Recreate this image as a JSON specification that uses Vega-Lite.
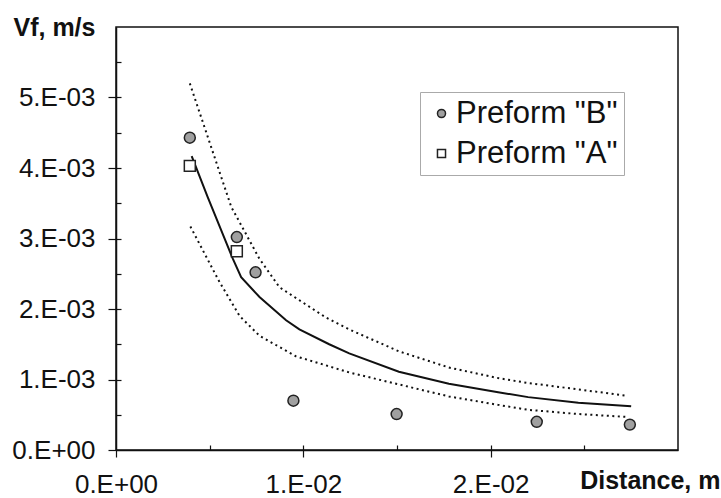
{
  "$schema": "https://vega.github.io/schema/vega-lite/v6.json",
  "autosize": "none",
  "width": 562,
  "height": 423,
  "padding": {"left": 116, "top": 27, "right": 43, "bottom": 48},
  "background": "white",
  "config": {
    "view": {"stroke": "#111", "strokeWidth": 1.5},
    "font": "Liberation Sans"
  },
  "resolve": {"axis": {"x": "independent", "y": "independent"}},
  "datasets": {
    "points": [
      {"distance": 0.00394, "vf": 0.00443, "preform": "Preform \"B\""},
      {"distance": 0.00645, "vf": 0.00302, "preform": "Preform \"B\""},
      {"distance": 0.00745, "vf": 0.00252, "preform": "Preform \"B\""},
      {"distance": 0.00947, "vf": 0.00070, "preform": "Preform \"B\""},
      {"distance": 0.01498, "vf": 0.00051, "preform": "Preform \"B\""},
      {"distance": 0.02246, "vf": 0.00040, "preform": "Preform \"B\""},
      {"distance": 0.02743, "vf": 0.00036, "preform": "Preform \"B\""},
      {"distance": 0.00394, "vf": 0.00403, "preform": "Preform \"A\""},
      {"distance": 0.00645, "vf": 0.00282, "preform": "Preform \"A\""}
    ],
    "mean": [
      {"distance": 0.00404, "vf": 0.00417},
      {"distance": 0.00489, "vf": 0.00359},
      {"distance": 0.00624, "vf": 0.00271},
      {"distance": 0.00668, "vf": 0.00245},
      {"distance": 0.00766, "vf": 0.00217},
      {"distance": 0.00908, "vf": 0.00184},
      {"distance": 0.00979, "vf": 0.00171},
      {"distance": 0.01138, "vf": 0.00150},
      {"distance": 0.01245, "vf": 0.00137},
      {"distance": 0.0151, "vf": 0.00111},
      {"distance": 0.01777, "vf": 0.00094},
      {"distance": 0.0204, "vf": 0.00082},
      {"distance": 0.022, "vf": 0.00075},
      {"distance": 0.02468, "vf": 0.00067},
      {"distance": 0.0275, "vf": 0.00062}
    ],
    "bounds": [
      {"distance": 0.00394, "vf": 0.00520, "bound": "upper"},
      {"distance": 0.00615, "vf": 0.00345, "bound": "upper"},
      {"distance": 0.00766, "vf": 0.00271, "bound": "upper"},
      {"distance": 0.00872, "vf": 0.00231, "bound": "upper"},
      {"distance": 0.0112, "vf": 0.00188, "bound": "upper"},
      {"distance": 0.01245, "vf": 0.00171, "bound": "upper"},
      {"distance": 0.0151, "vf": 0.00140, "bound": "upper"},
      {"distance": 0.01777, "vf": 0.00117, "bound": "upper"},
      {"distance": 0.0204, "vf": 0.00102, "bound": "upper"},
      {"distance": 0.022, "vf": 0.00095, "bound": "upper"},
      {"distance": 0.02468, "vf": 0.00086, "bound": "upper"},
      {"distance": 0.02723, "vf": 0.00077, "bound": "upper"},
      {"distance": 0.00397, "vf": 0.00317, "bound": "lower"},
      {"distance": 0.00553, "vf": 0.00238, "bound": "lower"},
      {"distance": 0.0066, "vf": 0.00190, "bound": "lower"},
      {"distance": 0.00766, "vf": 0.00162, "bound": "lower"},
      {"distance": 0.0096, "vf": 0.00133, "bound": "lower"},
      {"distance": 0.01245, "vf": 0.00110, "bound": "lower"},
      {"distance": 0.0151, "vf": 0.00093, "bound": "lower"},
      {"distance": 0.01777, "vf": 0.00076, "bound": "lower"},
      {"distance": 0.0204, "vf": 0.00064, "bound": "lower"},
      {"distance": 0.022, "vf": 0.00057, "bound": "lower"},
      {"distance": 0.02468, "vf": 0.00051, "bound": "lower"},
      {"distance": 0.02723, "vf": 0.00047, "bound": "lower"}
    ]
  },
  "layer": [
    {
      "data": {"name": "bounds"},
      "mark": {"type": "line", "color": "#111", "strokeWidth": 2, "strokeDash": [2, 3.5]},
      "encoding": {
        "x": {
          "field": "distance", "type": "quantitative",
          "scale": {"domain": [0, 0.03], "nice": false, "zero": false},
          "axis": {
            "orient": "bottom",
            "values": [0, 0.01, 0.02],
            "labelExpr": "datum.value == 0 ? '0.E+00' : format(round(datum.value * 100), 'd') + '.E-02'",
            "grid": false,
            "domainColor": "#111", "domainWidth": 1.5,
            "tickColor": "#111", "tickWidth": 1.2, "tickSize": 7,
            "labelFont": "Liberation Sans", "labelFontSize": 26, "labelColor": "#111",
            "labelPadding": 14, "labelFlush": false, "labelOverlap": false,
            "title": "Distance, m",
            "titleFont": "Liberation Sans", "titleFontSize": 25, "titleFontWeight": "bold", "titleColor": "#111",
            "titleAnchor": "start", "titleAlign": "right", "titleBaseline": "alphabetic",
            "titleX": 604, "titleY": 38
          }
        },
        "y": {
          "field": "vf", "type": "quantitative",
          "scale": {"domain": [0, 0.006], "nice": false, "zero": false},
          "axis": {
            "orient": "left",
            "values": [0, 0.001, 0.002, 0.003, 0.004, 0.005],
            "labelExpr": "datum.value == 0 ? '0.E+00' : format(round(datum.value * 1000), 'd') + '.E-03'",
            "grid": false,
            "domainColor": "#111", "domainWidth": 1.5,
            "tickColor": "#111", "tickWidth": 1.2, "tickSize": 8,
            "labelFont": "Liberation Sans", "labelFontSize": 26, "labelColor": "#111",
            "labelPadding": 13, "labelFlush": false, "labelOverlap": false,
            "title": "Vf, m/s",
            "titleFont": "Liberation Sans", "titleFontSize": 25, "titleFontWeight": "bold", "titleColor": "#111",
            "titleAngle": 0, "titleAnchor": "start", "titleAlign": "left", "titleBaseline": "alphabetic",
            "titleX": -103, "titleY": 8
          }
        },
        "detail": {"field": "bound", "type": "nominal"}
      }
    },
    {
      "data": {"name": "mean"},
      "mark": {"type": "line", "color": "#111", "strokeWidth": 2},
      "encoding": {
        "x": {
          "field": "distance", "type": "quantitative",
          "axis": {
            "orient": "bottom",
            "values": [0.005, 0.01, 0.015, 0.02, 0.025],
            "labels": false, "domain": false, "grid": false, "title": null,
            "tickColor": "#111", "tickWidth": 1.2, "tickSize": -5
          }
        },
        "y": {
          "field": "vf", "type": "quantitative",
          "axis": {
            "orient": "left",
            "values": [0.0005, 0.001, 0.0015, 0.002, 0.0025, 0.003, 0.0035, 0.004, 0.0045, 0.005, 0.0055],
            "labels": false, "domain": false, "grid": false, "title": null,
            "tickColor": "#111", "tickWidth": 1.2, "tickSize": -5
          }
        }
      }
    },
    {
      "data": {"name": "points"},
      "mark": {"type": "point", "filled": true, "size": 120, "stroke": "#222", "strokeWidth": 1.5, "opacity": 1},
      "encoding": {
        "x": {"field": "distance", "type": "quantitative", "axis": null},
        "y": {"field": "vf", "type": "quantitative", "axis": null},
        "shape": {
          "field": "preform", "type": "nominal",
          "scale": {"domain": ["Preform \"B\"", "Preform \"A\""], "range": ["circle", "square"]},
          "legend": {
            "title": null, "orient": "none", "legendX": 304, "legendY": 65,
            "strokeColor": "#aaa", "padding": 6, "rowPadding": 8,
            "labelFont": "Liberation Sans", "labelFontSize": 31, "labelColor": "#111", "labelLimit": 400,
            "labelOffset": -1, "symbolSize": 65,
            "encode": {"symbols": {"update": {"stroke": {"value": "#222"}, "strokeWidth": {"value": 1.2}}}}
          }
        },
        "fill": {
          "field": "preform", "type": "nominal",
          "scale": {"domain": ["Preform \"B\"", "Preform \"A\""], "range": ["#a0a0a0", "#ffffff"]},
          "legend": {
            "title": null, "orient": "none", "legendX": 304, "legendY": 65,
            "strokeColor": "#aaa", "padding": 6, "rowPadding": 8,
            "labelFont": "Liberation Sans", "labelFontSize": 31, "labelColor": "#111", "labelLimit": 400,
            "labelOffset": -1, "symbolSize": 65,
            "encode": {"symbols": {"update": {"stroke": {"value": "#222"}, "strokeWidth": {"value": 1.2}}}}
          }
        }
      }
    }
  ]
}
